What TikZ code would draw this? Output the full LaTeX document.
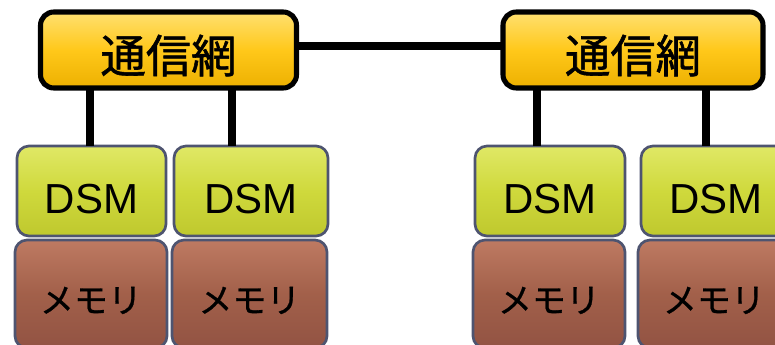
\documentclass[tikz,border=0pt]{standalone}
\usepackage{fontspec}
\setmainfont{Liberation Sans}
\newfontfamily\jpfont{Noto Sans CJK JP}[FakeBold=1.2]
\newfontfamily\jpfontm{Noto Sans CJK JP}[FakeBold=0.8]
\usetikzlibrary{calc}
\definecolor{netfill}{HTML}{FFC81A}
\definecolor{nettop}{HTML}{FFE070}
\definecolor{netbot}{HTML}{EDB000}
\definecolor{dsmfill}{HTML}{CFD93C}
\definecolor{dsmtop}{HTML}{E0E866}
\definecolor{dsmbot}{HTML}{BFC82E}
\definecolor{memfill}{HTML}{A2604A}
\definecolor{memtop}{HTML}{BE7A62}
\definecolor{membot}{HTML}{925343}
\definecolor{boxedge}{HTML}{4E5470}
\newcommand{\lowtext}[2]{\raisebox{-#1}[0pt][0pt]{#2}}
\tikzset{
  netbox/.style={draw=black, line width=3.8pt, rounded corners=10pt,
    top color=nettop, bottom color=netbot, middle color=netfill,
    minimum width=192pt, minimum height=57pt, inner sep=0pt, outer sep=0pt,
    font=\jpfont\fontsize{34}{36}\selectfont},
  dsmbox/.style={draw=boxedge, line width=2pt, rounded corners=9pt,
    top color=dsmtop, bottom color=dsmbot, middle color=dsmfill,
    minimum height=67.5pt, inner sep=0pt, outer sep=0pt,
    font=\fontsize{31.5}{33}\selectfont},
  membox/.style={draw=boxedge, line width=2pt, rounded corners=9pt,
    top color=memtop, bottom color=membot, middle color=memfill,
    minimum height=81pt, inner sep=0pt, outer sep=0pt,
    font=\jpfontm\fontsize{25.5}{27}\selectfont},
  link/.style={line width=6pt, black}
}
\begin{document}
\begin{tikzpicture}[x=0.75pt,y=-0.75pt]
\useasboundingbox (0,0) rectangle (775,344);
% network boxes
\node[netbox] (n1) at (168.5,50) {\lowtext{17pt}{通信網}};
\node[netbox, minimum width=195pt] (n2) at (633,50) {\lowtext{17pt}{通信網}};
% DSM boxes
\node[dsmbox, minimum width=111.75pt] (d1) at (91.5,191) {\lowtext{16.5pt}{DSM}};
\node[dsmbox, minimum width=115.5pt] (d2) at (251,191) {\lowtext{16.5pt}{DSM}};
\node[dsmbox, minimum width=112.5pt] (d3) at (550,191) {\lowtext{16.5pt}{DSM}};
\node[dsmbox, minimum width=112.5pt] (d4) at (716,191) {\lowtext{16.5pt}{DSM}};
% memory boxes
\node[membox, minimum width=114pt] (m1) at (91,294) {\lowtext{14pt}{メモリ}};
\node[membox, minimum width=116.25pt] (m2) at (249.5,294) {\lowtext{14pt}{メモリ}};
\node[membox, minimum width=114pt] (m3) at (549,294) {\lowtext{14pt}{メモリ}};
\node[membox, minimum width=114pt] (m4) at (714,294) {\lowtext{14pt}{メモリ}};
% connectors
\draw[link] ([yshift=3pt]n1.east) -- ([yshift=3pt]n2.west);
\draw[link] ([xshift=-1.1pt]d1.north) -- ([xshift=-1.1pt]d1.north |- n1.south);
\draw[link] ([xshift=-14.25pt]d2.north) -- ([xshift=-14.25pt]d2.north |- n1.south);
\draw[link] ([xshift=-9.75pt]d3.north) -- ([xshift=-9.75pt]d3.north |- n2.south);
\draw[link] ([xshift=-7.5pt]d4.north) -- ([xshift=-7.5pt]d4.north |- n2.south);
\end{tikzpicture}
\end{document}
